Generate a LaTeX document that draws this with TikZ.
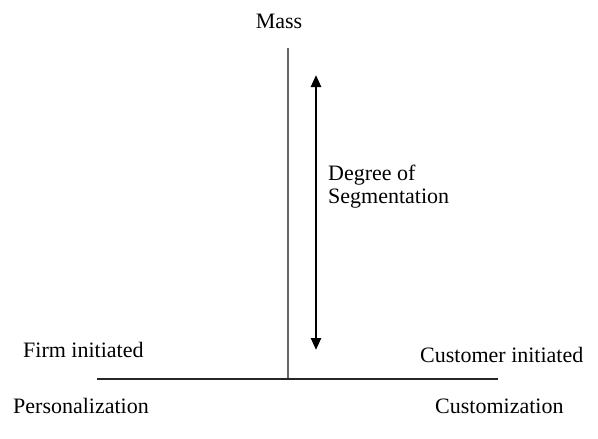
\documentclass[tikz,border=0pt]{standalone}
\usepackage{fontspec}
\setmainfont{Liberation Serif}
\usepackage{tikz}
\usetikzlibrary{arrows.meta}

\begin{document}
\begin{tikzpicture}[x=1pt,y=-1pt]
\tikzstyle{every node}+=[inner sep=0pt, anchor=base west, font=\fontsize{22}{23}\selectfont]
\tikzstyle{axis}=[line width=1.4pt]
\useasboundingbox (0,0) rectangle (598,439);
% axes
\coordinate (top) at (288,48);
\coordinate (mid) at (288,379);
\coordinate (left) at (97,379);
\coordinate (right) at (498,379);
\draw [axis, gray!80!black] (top) -- (mid);
\draw [axis, black!85] (left) -- (right);
% segmentation arrow
\coordinate (up) at (316,75);
\coordinate (down) at (316,350);
\draw [line width=2.5pt, {Triangle[length=12pt,width=10pt]}-{Triangle[length=12pt,width=10pt]}] (down) -- (up);
% labels
\node (mass) [anchor=base] at (279,28) {Mass};
\node (degree) [align=left] at (328,203) {Degree of\\Segmentation};
\node (firm) at (23,357) {Firm initiated};
\node (cust) at (420,362) {Customer initiated};
\node (pers) at (13,413) {Personalization};
\node (custom) at (435,413) {Customization};
\end{tikzpicture}
\end{document}
